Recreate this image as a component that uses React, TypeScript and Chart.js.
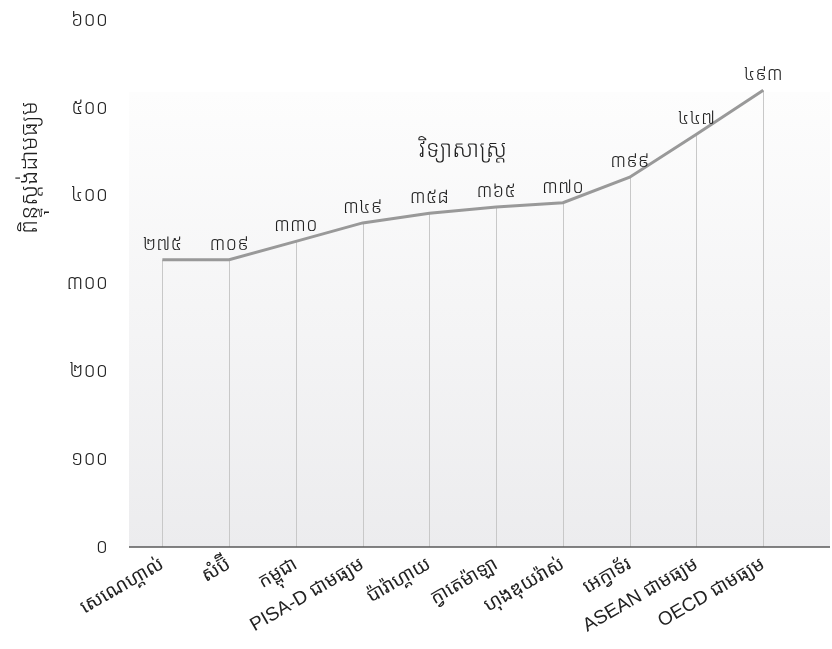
import React, { useEffect, useRef } from "react";
import { Chart, registerables } from "chart.js";

Chart.register(...registerables);

const categories = [
  "សេណេហ្គាល់",
  "សំប៊ី",
  "កម្ពុជា",
  "PISA-D ជាមធ្យម",
  "ប៉ារ៉ាហ្គាយ",
  "ក្វាតេម៉ាឡា",
  "ហុងឌុយរ៉ាស់",
  "អេក្វាទ័រ",
  "ASEAN ជាមធ្យម",
  "OECD ជាមធ្យម",
];
const plottedValues = [327, 327, 348, 369, 380, 387, 392, 421, 470, 520];
const labelValues = [275, 309, 330, 349, 358, 365, 370, 399, 447, 493];
const yTicks = [0, 100, 200, 300, 400, 500, 600];
const chartTitle = "វិទ្យាសាស្ត្រ";
const yTitle = "ពិន្ទុស្ដង់ដាមធ្យម";

const KH_DIGITS = ["០", "១", "២", "៣", "៤", "៥", "៦", "៧", "៨", "៩"];
const toKhmer = (n: number) =>
  String(n)
    .split("")
    .map((c) => (c >= "0" && c <= "9" ? KH_DIGITS[+c] : c))
    .join("");

const FONT = "'Noto Sans', 'Noto Sans Khmer', 'DejaVu Sans', sans-serif";
const XFONT = "'Liberation Sans', 'Noto Sans Khmer', sans-serif";

export default function App() {
  const ref = useRef<HTMLCanvasElement | null>(null);
  useEffect(() => {
    document.body.style.margin = "0";
    const canvas = ref.current!;
    const decor = {
      id: "decor",
      beforeDatasetsDraw(chart: any) {
        const { ctx, chartArea, scales } = chart;
        const y = scales.y;
        const x = scales.x;
        const top = y.getPixelForValue(518);
        const g = ctx.createLinearGradient(0, top, 0, chartArea.bottom);
        g.addColorStop(0, "#fdfdfd");
        g.addColorStop(1, "#ececee");
        ctx.save();
        ctx.fillStyle = g;
        ctx.fillRect(chartArea.left, top, chartArea.right - chartArea.left, chartArea.bottom - top);
        ctx.strokeStyle = "#c8c8c8";
        ctx.lineWidth = 1;
        plottedValues.forEach((v, i) => {
          const px = Math.round(x.getPixelForValue(i)) + 0.5;
          ctx.beginPath();
          ctx.moveTo(px, y.getPixelForValue(v));
          ctx.lineTo(px, chartArea.bottom);
          ctx.stroke();
        });
        ctx.strokeStyle = "#5a5a5a";
        ctx.lineWidth = 1.5;
        ctx.beginPath();
        ctx.moveTo(chartArea.left, chartArea.bottom);
        ctx.lineTo(chartArea.right, chartArea.bottom);
        ctx.stroke();
        ctx.restore();
      },
      afterDatasetsDraw(chart: any) {
        const { ctx, chartArea, scales } = chart;
        const y = scales.y;
        const x = scales.x;
        ctx.save();
        ctx.fillStyle = "#222";
        ctx.font = `300 19px ${FONT}`;
        ctx.textAlign = "center";
        ctx.textBaseline = "bottom";
        labelValues.forEach((lv, i) => {
          ctx.fillText(toKhmer(lv), x.getPixelForValue(i), y.getPixelForValue(plottedValues[i]) - 6);
        });
        ctx.font = `300 23px ${FONT}`;
        ctx.textBaseline = "middle";
        ctx.fillText(chartTitle, x.getPixelForValue(4.5), y.getPixelForValue(452));
        ctx.translate(chartArea.left - 99, y.getPixelForValue(432));
        ctx.rotate(-Math.PI / 2);
        ctx.font = `300 23px ${FONT}`;
        ctx.fillText(yTitle, 0, 0);
        ctx.restore();
      },
    };
    const chart = new Chart(canvas, {
      type: "line",
      data: {
        datasets: [
          {
            data: plottedValues.map((v, i) => ({ x: i, y: v })),
            borderColor: "#999999",
            borderWidth: 3,
            pointRadius: 0,
            tension: 0,
          },
        ],
      },
      options: {
        animation: false,
        responsive: false,
        layout: { padding: { top: 20, right: 2, left: 0, bottom: 0 } },
        plugins: { legend: { display: false }, tooltip: { enabled: false } },
        scales: {
          x: {
            type: "linear",
            min: -0.5,
            max: 10,
            grid: { display: false, drawTicks: false },
            border: { display: false },
            afterBuildTicks: (s: any) => {
              s.ticks = categories.map((_, i) => ({ value: i }));
            },
            afterFit: (s: any) => {
              s.height = 102;
              s.paddingTop = 0;
              s.paddingLeft = 0;
              s.paddingRight = 0;
            },
            ticks: {
              autoSkip: false,
              minRotation: 30,
              maxRotation: 30,
              padding: 6,
              color: "#222",
              font: { family: XFONT, size: 19, weight: "normal" },
              callback: (v: any) => categories[v as number] ?? "",
            },
          },
          y: {
            min: 0,
            max: 600,
            grid: { display: false, drawTicks: false },
            border: { display: false },
            afterBuildTicks: (s: any) => {
              s.ticks = yTicks.map((v) => ({ value: v }));
            },
            afterFit: (s: any) => {
              s.width = 129;
              s.paddingTop = 0;
              s.paddingBottom = 0;
            },
            ticks: {
              padding: 21,
              color: "#222",
              font: { family: FONT, size: 20, weight: "300" },
              callback: (v: any) => toKhmer(v as number),
            },
          },
        },
      },
      plugins: [decor],
    });
    return () => chart.destroy();
  }, []);
  return (
    <div style={{ width: 832, height: 649 }}>
      <canvas ref={ref} width={832} height={649} />
    </div>
  );
}
